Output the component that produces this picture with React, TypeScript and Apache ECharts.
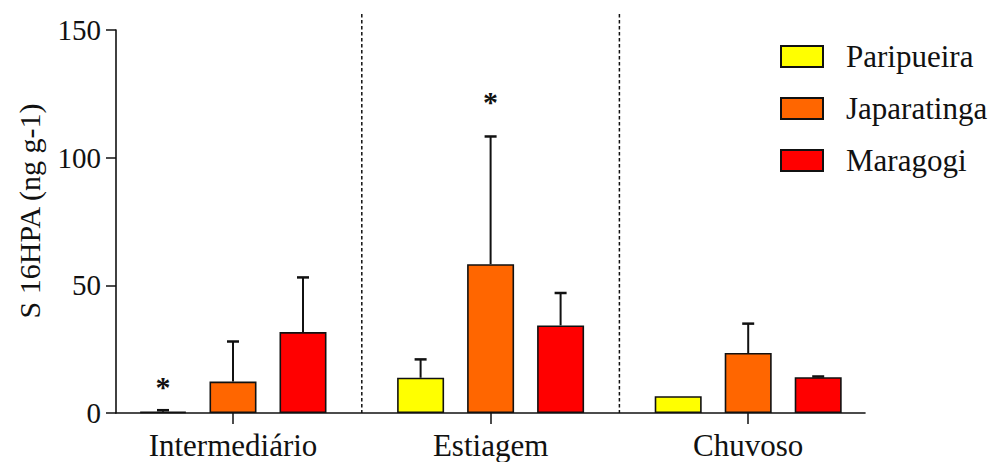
import React, { useEffect, useRef } from "react";
import * as echarts from "echarts";

const categories = ["Intermediário", "Estiagem", "Chuvoso"];
const seriesNames = ["Paripueira", "Japaratinga", "Maragogi"];
const seriesColors = ["#FFFF00", "#FF6600", "#FF0000"];
const paripueira = [0.5, 13.8, 6.6];
const japaratinga = [12.3, 58.3, 23.5];
const maragogi = [31.7, 34.3, 14.0];
const paripueiraErr = [0.6, 7.2, 0];
const japaratingaErr = [15.7, 50.0, 11.5];
const maragogiErr = [21.4, 12.7, 0.3];
const paripueiraSig = [10.5, null, null];
const japaratingaSig = [null, 122, null];
const maragogiSig = [null, null, null];
const yTicks = [0, 50, 100, 150];
const yTitle = "S 16HPA (ng g-1)";

const W = 991;
const H = 462;
const FONT = "Liberation Serif";
const GRID_TOP = 30;
const GRID_BOTTOM = 49;
const BAR_LEFT = 104.2;
const BAR_WIDTH_TOTAL = 772.8;
const AXIS_LEFT = 116;
const AXIS_RIGHT = 126;
const BAR_W = 47;
const BAR_GAP = 23;
const SEP_TOP = 14;

export default function App() {
  const ref = useRef<HTMLDivElement>(null);
  useEffect(() => {
    if (!ref.current) return;
    const chart = echarts.init(ref.current, null, { renderer: "svg" });
    const values = [paripueira, japaratinga, maragogi];
    const errs = [paripueiraErr, japaratingaErr, maragogiErr];
    const sigs = [paripueiraSig, japaratingaSig, maragogiSig];
    const yMax = yTicks[yTicks.length - 1];
    const catW = BAR_WIDTH_TOTAL / categories.length;
    const plotBottom = H - GRID_BOTTOM;

    const barSeries = seriesNames.map((name, s) => ({
      type: "bar",
      name,
      xAxisIndex: 0,
      yAxisIndex: 0,
      data: values[s],
      barWidth: BAR_W,
      barGap: `${(BAR_GAP / BAR_W) * 100}%`,
      itemStyle: { color: seriesColors[s], borderColor: "#111", borderWidth: 1.6 },
      z: 2,
    }));

    const errSeries = seriesNames.map((name, s) => ({
      type: "custom",
      name: name + "-err",
      xAxisIndex: 0,
      yAxisIndex: 0,
      z: 3,
      data: values[s].map((v, i) => [i, v, errs[s][i], sigs[s][i] == null ? -1 : sigs[s][i]]),
      renderItem: (params: any, api: any) => {
        const i = api.value(0);
        const v = api.value(1);
        const e = api.value(2);
        const sig = api.value(3);
        const off = (s - 1) * (BAR_W + BAR_GAP);
        const base = api.coord([i, v]);
        const top = api.coord([i, v + e]);
        const x = base[0] + off;
        const children: any[] = [];
        if (e > 0) {
          children.push({
            type: "line",
            shape: { x1: x, y1: base[1], x2: x, y2: top[1] },
            style: { stroke: "#111", lineWidth: 2 },
          });
          children.push({
            type: "line",
            shape: { x1: x - 6, y1: top[1], x2: x + 6, y2: top[1] },
            style: { stroke: "#111", lineWidth: 2.5 },
          });
        }
        if (sig >= 0) {
          const p = api.coord([i, sig]);
          children.push({
            type: "text",
            x,
            y: p[1],
            style: {
              text: "*",
              fontFamily: FONT,
              fontSize: 30,
              fontWeight: "bold",
              fill: "#111",
              align: "center",
              verticalAlign: "middle",
            },
          });
        }
        return { type: "group", children };
      },
    }));

    const seps = [1, 2].map((k) => ({
      type: "line",
      shape: { x1: BAR_LEFT + k * catW, y1: SEP_TOP, x2: BAR_LEFT + k * catW, y2: plotBottom },
      style: { stroke: "#111", lineWidth: 1.5, lineDash: [3.5, 2.5] },
      z: 1,
    }));

    chart.setOption({
      animation: false,
      backgroundColor: "#ffffff",
      grid: [
        { left: BAR_LEFT, width: BAR_WIDTH_TOTAL, top: GRID_TOP, bottom: GRID_BOTTOM },
        { left: AXIS_LEFT, right: AXIS_RIGHT, top: GRID_TOP, bottom: GRID_BOTTOM },
      ],
      xAxis: [
        {
          type: "category",
          gridIndex: 0,
          data: categories,
          axisLine: { show: false },
          axisTick: { show: true, alignWithLabel: true, length: 11, lineStyle: { color: "#111", width: 1.5 } },
          axisLabel: { color: "#111", fontFamily: FONT, fontSize: 31, margin: 17 },
          splitLine: { show: false },
        },
        {
          type: "value",
          gridIndex: 1,
          min: 0,
          max: 1,
          axisLine: { show: true, onZero: false, lineStyle: { color: "#111", width: 1.6 } },
          axisTick: { show: false },
          axisLabel: { show: false },
          splitLine: { show: false },
        },
      ],
      yAxis: [
        {
          type: "value",
          gridIndex: 0,
          min: 0,
          max: yMax,
          show: false,
        },
        {
          type: "value",
          gridIndex: 1,
          min: 0,
          max: yMax,
          interval: 50,
          axisLine: { show: true, lineStyle: { color: "#111", width: 1.6 } },
          axisTick: { show: true, length: 10, lineStyle: { color: "#111", width: 1.5 } },
          axisLabel: { color: "#111", fontFamily: FONT, fontSize: 29, margin: 15 },
          splitLine: { show: false },
        },
      ],
      legend: {
        data: seriesNames,
        orient: "vertical",
        left: 780,
        top: 41,
        padding: 0,
        itemWidth: 42,
        itemHeight: 21,
        itemGap: 21,
        icon: "rect",
        textStyle: {
          color: "#111",
          fontFamily: FONT,
          fontSize: 31,
          padding: [0, 0, 0, 18],
        },
      },
      graphic: [
        ...seps,
        {
          type: "text",
          x: 29,
          y: 211,
          rotation: Math.PI / 2,
          style: {
            text: yTitle,
            fontFamily: FONT,
            fontSize: 30,
            fill: "#111",
            align: "center",
            verticalAlign: "middle",
          },
        },
      ],
      series: [...barSeries, ...errSeries],
    });
    return () => chart.dispose();
  }, []);
  return (
    <div
      ref={ref}
      style={{ position: "fixed", left: 0, top: 0, width: W, height: H, background: "#fff" }}
    />
  );
}
